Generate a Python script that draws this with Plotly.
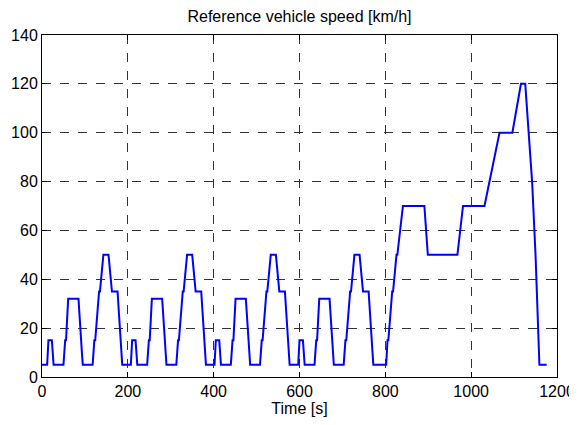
import plotly.graph_objects as go

time_s = [
    0, 12, 15, 23, 27, 50, 54, 56, 61, 85, 93, 95, 118, 122, 124, 133, 135, 143, 155, 163, 176, 186, 187,
    207, 210, 218, 222, 245, 249, 251, 256, 280, 288, 290, 313, 317, 319, 328, 330, 338, 350, 358, 371, 381, 382,
    402, 405, 413, 417, 440, 444, 446, 451, 475, 483, 485, 508, 512, 514, 523, 525, 533, 545, 553, 566, 576, 577,
    597, 600, 608, 612, 635, 639, 641, 646, 670, 678, 680, 703, 707, 709, 718, 720, 728, 740, 748, 761, 771, 772,
    802, 805, 807, 816, 818, 826, 828, 841, 891, 899, 968, 981, 1031, 1066, 1096, 1116, 1126, 1142, 1150, 1159, 1176,
]
speed_kmh = [
    5, 5, 15, 15, 5, 5, 15, 15, 32, 32, 10, 5, 5, 15, 15, 35, 35, 50, 50, 35, 35, 10, 5,
    5, 15, 15, 5, 5, 15, 15, 32, 32, 10, 5, 5, 15, 15, 35, 35, 50, 50, 35, 35, 10, 5,
    5, 15, 15, 5, 5, 15, 15, 32, 32, 10, 5, 5, 15, 15, 35, 35, 50, 50, 35, 35, 10, 5,
    5, 15, 15, 5, 5, 15, 15, 32, 32, 10, 5, 5, 15, 15, 35, 35, 50, 50, 35, 35, 10, 5,
    5, 15, 15, 35, 35, 50, 50, 70, 70, 50, 50, 70, 70, 100, 100, 120, 120, 80, 50, 5, 5,
]
x_ticks = [0, 200, 400, 600, 800, 1000, 1200]
y_ticks = [0, 20, 40, 60, 80, 100, 120, 140]

FONT = "Liberation Sans, Arial, Helvetica, sans-serif"
W, H = 569, 417  # page body has an 8px margin

fig = go.Figure()
fig.add_trace(go.Scatter(x=time_s, y=speed_kmh, mode="lines",
                         line=dict(color="#0000FF", width=2), showlegend=False))

axis_common = dict(
    showline=True, linecolor="black", linewidth=1, mirror="ticks",
    ticks="inside", ticklen=5, tickcolor="black",
    showgrid=True, gridcolor="#333333", griddash="dash", gridwidth=1,
    zeroline=False, automargin=False,
    tickfont=dict(family=FONT, size=16, color="black"),
)

fig.update_layout(
    width=W, height=H,
    margin=dict(l=34, r=20, t=27, b=48),
    paper_bgcolor="white", plot_bgcolor="white",
    title=dict(text="Reference vehicle speed [km/h]", x=0.5, xref="paper", xanchor="center",
               y=(H - 3) / H, yref="container", yanchor="top",
               font=dict(family=FONT, size=16, color="black")),
    xaxis=dict(range=[0, 1200], tickvals=x_ticks, ticktext=[str(v) for v in x_ticks],
               title=dict(text="Time [s]", standoff=0,
                          font=dict(family=FONT, size=16, color="black")),
               **axis_common),
    yaxis=dict(range=[0, 140], tickvals=y_ticks, ticktext=[str(v) for v in y_ticks], **axis_common),
)

fig.write_html("out.html")
